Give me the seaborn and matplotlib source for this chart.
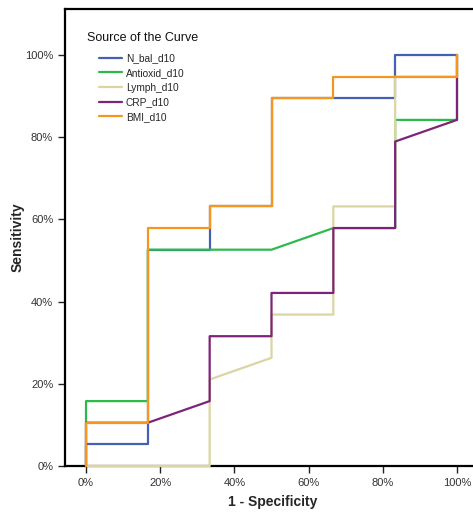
import pandas as pd
import numpy as np
from matplotlib import pyplot as plt
from matplotlib.ticker import PercentFormatter
import seaborn as sns

##### ROC curve points (1 - specificity, sensitivity)
curves = ['N_bal_d10', 'Antioxid_d10', 'Lymph_d10', 'CRP_d10', 'BMI_d10']

n_bal_x = [0, 0, 1/6, 1/6, 1/3, 1/3, 1/2, 1/2, 5/6, 5/6, 1]
n_bal_y = [0, 1/19, 1/19, 10/19, 10/19, 12/19, 12/19, 17/19, 17/19, 1, 1]

antiox_x = [0, 0, 1/6, 1/6, 1/2, 2/3, 5/6, 5/6, 1, 1]
antiox_y = [0, 3/19, 3/19, 10/19, 10/19, 11/19, 11/19, 16/19, 16/19, 1]

lymph_x = [0, 1/3, 1/3, 1/2, 1/2, 2/3, 2/3, 5/6, 5/6, 1, 1]
lymph_y = [0, 0, 4/19, 5/19, 7/19, 7/19, 12/19, 12/19, 18/19, 18/19, 1]

crp_x = [0, 0, 1/6, 1/3, 1/3, 1/2, 1/2, 2/3, 2/3, 5/6, 5/6, 1, 1]
crp_y = [0, 2/19, 2/19, 3/19, 6/19, 6/19, 8/19, 8/19, 11/19, 11/19, 15/19, 16/19, 1]

bmi_x = [0, 0, 1/6, 1/6, 1/3, 1/3, 1/2, 1/2, 2/3, 2/3, 1, 1]
bmi_y = [0, 2/19, 2/19, 11/19, 11/19, 12/19, 12/19, 17/19, 17/19, 18/19, 18/19, 1]

colors = ['#4360B5', '#2EBA4B', '#DAD5A2', '#7D2378', '#F7961F']

##### Build long table for seaborn
xs = [n_bal_x, antiox_x, lymph_x, crp_x, bmi_x]
ys = [n_bal_y, antiox_y, lymph_y, crp_y, bmi_y]
frames = []
for name, x, y in zip(curves, xs, ys):
    frames.append(pd.DataFrame({'fpr': x, 'tpr': y, 'curve': name}))
roc = pd.concat(frames, ignore_index=True)

sns.set_style('white')
plt.rcParams['font.family'] = ['Liberation Sans', 'DejaVu Sans']

fig = plt.figure(figsize=(4.73, 5.13), dpi=100)
ax = fig.add_axes([65/473, 47/513, 415/473, 457/513])

sns.lineplot(data=roc, x='fpr', y='tpr', hue='curve', hue_order=curves,
             palette=colors, sort=False, estimator=None, units='curve',
             linewidth=1.6, ax=ax, legend=False)
# lines sit on top of the axis line, like the original
for line in ax.lines:
    line.set_zorder(3)
    line.set_clip_on(False)

ax.set_xlim(-21/371, 415/371 - 21/371)
ax.set_ylim(0, 457/411)
ax.set_xticks(np.arange(0, 1.01, 0.2))
ax.set_yticks(np.arange(0, 1.01, 0.2))
ax.xaxis.set_major_formatter(PercentFormatter(1.0, decimals=0))
ax.yaxis.set_major_formatter(PercentFormatter(1.0, decimals=0))
ax.tick_params(axis='both', direction='out', length=5, width=1, color='#222222',
               labelsize=8, labelcolor='#333333', bottom=True, left=True)
for side in ['left', 'bottom', 'top', 'right']:
    ax.spines[side].set_color('black')
    ax.spines[side].set_linewidth(1.6)

ax.set_xlabel('1 - Specificity', fontsize=10, fontweight='bold', labelpad=5)
ax.set_ylabel('Sensitivity', fontsize=10, fontweight='bold')
ax.yaxis.set_label_coords(-0.097, 0.5)

ax.text(0.053, (466 - 38) / 457, 'Source of the Curve', transform=ax.transAxes,
        fontsize=9, va='center', ha='left', color='#111111')
handles = [plt.Line2D([], [], color=c, linewidth=1.6) for c in colors]
ax.legend(handles, curves, loc='upper left', bbox_to_anchor=(0.0816, 0.903),
          frameon=False, fontsize=7.3, borderpad=0, borderaxespad=0,
          handlelength=2.3, labelspacing=0.46, handletextpad=0.35)

plt.savefig('out.png', dpi=100)
